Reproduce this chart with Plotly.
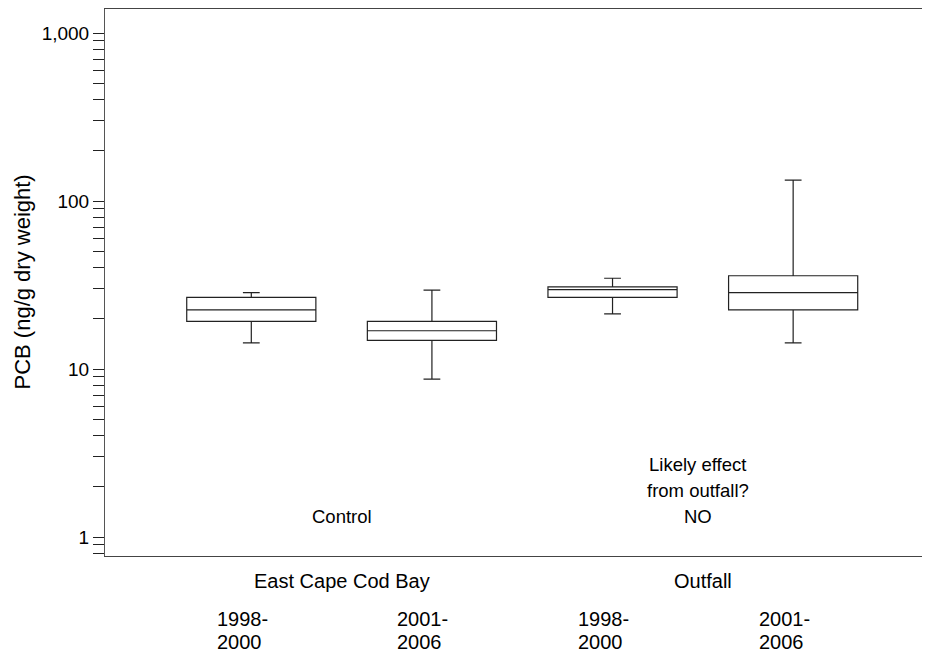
import plotly.graph_objects as go

positions = [1, 2, 3, 4]
year_line1 = ["1998-", "2001-", "1998-", "2001-"]
year_line2 = ["2000", "2006", "2000", "2006"]
group_labels = ["East Cape Cod Bay", "Outfall"]
lower_whisker = [14.3, 8.7, 21.3, 14.3]
q1 = [19.2, 14.8, 26.7, 22.5]
median = [22.5, 16.9, 29.7, 28.5]
q3 = [26.7, 19.2, 30.8, 35.9]
upper_whisker = [28.5, 29.5, 34.7, 133.0]

y_tickvals = [1, 10, 100, 1000]
y_ticktext = ["1", "10", "100", "1,000"]

FONT = "Liberation Sans, Arial, sans-serif"

fig = go.Figure()
fig.add_trace(go.Box(
    x=positions, q1=q1, median=median, q3=q3,
    lowerfence=lower_whisker, upperfence=upper_whisker,
    width=0.715, whiskerwidth=0.13,
    line=dict(color="#222222", width=1.2),
    fillcolor="white", boxpoints=False, showlegend=False,
    hoverinfo="skip",
))

ann = []
for i, g in enumerate(group_labels):
    xc = (positions[2 * i] + positions[2 * i + 1]) / 2
    ann.append(dict(x=xc, y=0, xref="x", yref="paper", text=g, showarrow=False,
                    yanchor="middle", yshift=-25, font=dict(size=20, color="black", family=FONT)))
for p, l1, l2 in zip(positions, year_line1, year_line2):
    ann.append(dict(x=p, y=0, xref="x", yref="paper", text=l1, showarrow=False,
                    xanchor="center", yanchor="middle", yshift=-63, xshift=-9,
                    font=dict(size=20, color="black", family=FONT)))
    ann.append(dict(x=p, y=0, xref="x", yref="paper", text=l2, showarrow=False,
                    xanchor="center", yanchor="middle", yshift=-86, xshift=-12,
                    font=dict(size=20, color="black", family=FONT)))
ann.append(dict(x=1.5, y=0, xref="x", yref="paper", text="Control", showarrow=False,
                yanchor="middle", yshift=40, font=dict(size=18.5, color="black", family=FONT)))
for txt, ys in [("Likely effect", 92), ("from outfall?", 66), ("NO", 40)]:
    ann.append(dict(x=3.5, y=0, xref="x", yref="paper", text=txt, showarrow=False,
                    yanchor="middle", yshift=ys, xshift=-5,
                    font=dict(size=18.5, color="black", family=FONT)))
ann.append(dict(x=0, y=0.5, xref="paper", yref="paper", text="PCB (ng/g dry weight)",
                showarrow=False, textangle=-90, xanchor="center", yanchor="middle",
                xshift=-83, font=dict(size=22, color="black", family=FONT)))

# page body has an 8px margin, so the figure is sized/offset to land on the 930x654 window
fig.update_layout(
    width=922, height=646,
    margin=dict(l=97, r=5, t=1, b=98),
    paper_bgcolor="white", plot_bgcolor="white",
    annotations=ann,
    font=dict(family=FONT, color="black"),
    xaxis=dict(range=[0.19, 4.73], showticklabels=False, ticks="", showgrid=False,
               zeroline=False, showline=True, linecolor="#444444", linewidth=1, mirror=True),
    yaxis=dict(type="log", range=[-0.113, 3.143], tickvals=y_tickvals, ticktext=y_ticktext,
               ticks="outside", ticklen=11, tickcolor="#222222", tickwidth=1,
               showgrid=False, zeroline=False, showline=True, linecolor="#555555", linewidth=1,
               mirror=True, tickfont=dict(size=19, color="black", family=FONT),
               minor=dict(ticks="outside", ticklen=11, tickcolor="#222222", tickwidth=1,
                          dtick="D1", showgrid=False)),
)

fig.write_html("out.html")
